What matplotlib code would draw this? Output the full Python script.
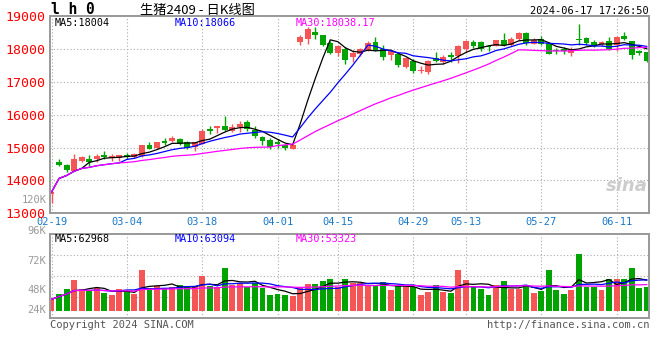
import numpy as np
import pandas as pd
import matplotlib
matplotlib.use("Agg")
import matplotlib.pyplot as plt

# daily candles, 2024-02-19 .. 2024-06-17 (lh2409)
opens = [13595, 14560, 14465, 14280, 14590, 14640, 14640, 14765, 14680, 14680,
         14765, 14720, 14745, 15070, 14990, 15205, 15185, 15255, 15155, 15030,
         15100, 15565, 15605, 15665, 15510, 15615, 15770, 15545, 15315, 15230,
         15180, 15070, 14955, 18210, 18300, 18515, 18435, 18180, 17870, 18005,
         17740, 17850, 17955, 18210, 18005, 17820, 17850, 17440, 17635, 17335,
         17305, 17730, 17605, 17810, 17795, 18005, 18220, 18220, 18075, 18075,
         18280, 18105, 18310, 18485, 18150, 18310, 18180, 17975, 18005, 17870,
         18310, 18335, 18210, 18160, 18250, 18125, 18385, 18230, 17945, 17900]
highs = [13645, 14660, 14505, 14795, 14745, 14765, 14795, 14885, 14795, 14765,
         14825, 14845, 15070, 15155, 15175, 15305, 15355, 15295, 15205, 15175,
         15565, 15645, 15665, 15945, 15715, 15820, 15840, 15665, 15350, 15280,
         15255, 15100, 15120, 18435, 18660, 18660, 18435, 18230, 18125, 18045,
         17975, 18025, 18230, 18355, 18125, 17925, 17870, 17750, 17680, 17470,
         17650, 17915, 17820, 17920, 18130, 18265, 18280, 18230, 18125, 18270,
         18485, 18355, 18515, 18515, 18335, 18385, 18210, 18025, 18045, 18045,
         18745, 18355, 18280, 18230, 18355, 18385, 18515, 18230, 17975, 17900]
lows = [13325, 14435, 14250, 14280, 14560, 14435, 14560, 14660, 14590, 14590,
        14660, 14690, 14720, 14970, 14970, 15070, 15175, 15070, 14970, 14895,
        15100, 15410, 15440, 15510, 15460, 15480, 15510, 15275, 15070, 14950,
        15000, 14930, 14950, 18125, 18150, 18310, 18075, 17840, 17790, 17545,
        17615, 17770, 17925, 17925, 17665, 17665, 17460, 17410, 17255, 17275,
        17245, 17600, 17545, 17600, 17560, 17910, 18025, 17925, 17945, 18075,
        18075, 18075, 18280, 18125, 18150, 18105, 17850, 17840, 17840, 17770,
        18125, 18125, 18045, 18075, 17975, 17925, 18280, 17695, 17800, 17615]
closes = [13645, 14475, 14330, 14660, 14710, 14560, 14745, 14700, 14745, 14765,
          14700, 14795, 15070, 14970, 15155, 15130, 15305, 15100, 15000, 15155,
          15505, 15510, 15645, 15535, 15615, 15715, 15565, 15350, 15205, 15010,
          15120, 15000, 15090, 18355, 18590, 18435, 18125, 17870, 18075, 17665,
          17890, 17995, 18180, 17975, 17740, 17925, 17510, 17710, 17315, 17370,
          17635, 17625, 17755, 17755, 18090, 18230, 18100, 18000, 18045, 18270,
          18105, 18310, 18485, 18180, 18280, 18150, 17850, 17925, 17925, 18005,
          18280, 18180, 18075, 18200, 18005, 18355, 18310, 17820, 17890, 17635]
volumes = [23300, 34100, 44300, 62600, 43700, 40200, 45700, 35500, 32000, 44300,
           40800, 34100, 83000, 45700, 50400, 45700, 47800, 52400, 47800, 47800,
           70800, 50400, 47800, 87100, 52400, 57100, 47800, 55900, 45700, 32000,
           34100, 31200, 30000, 47800, 53900, 53900, 60600, 64700, 47800, 64700,
           57100, 55900, 50400, 50400, 58600, 42200, 50400, 47800, 47800, 32000,
           38800, 52400, 38800, 36700, 83000, 62600, 47800, 44300, 32000, 52400,
           60600, 43700, 43700, 52400, 36700, 40800, 83000, 42200, 34100, 42200,
           115700, 47800, 47800, 42200, 64700, 64700, 64700, 87100, 46300, 49000]

tick_pos = [0, 10, 20, 30, 38, 48, 55, 65, 75]
tick_labels = ["02-19", "03-04", "03-18", "04-01", "04-15", "04-29", "05-13", "05-27", "06-11"]
price_ticks = [13000, 14000, 15000, 16000, 17000, 18000, 19000]

RED = "#f65555"
GREEN = "#00a300"
BLUE_TXT = "#1a78c8"
GRID = "#aaaaaa"
MONO = "DejaVu Sans Mono"

o = np.array(opens, dtype=float)
h = np.array(highs, dtype=float)
l = np.array(lows, dtype=float)
c = np.array(closes, dtype=float)
v = np.array(volumes, dtype=float)
x = np.arange(len(c))
col = np.where(c >= o, RED, GREEN)

ma = {n: pd.Series(c).rolling(n, min_periods=1).mean() for n in (5, 10, 30)}
vma = {n: pd.Series(v).rolling(n, min_periods=1).mean() for n in (5, 10, 30)}
ma_colors = {5: "black", 10: "#0000ff", 30: "#ff00ff"}

W, H = 660, 360
fig = plt.figure(figsize=(W / 100, H / 100), dpi=100)


def box(left, top, right, bottom):
    return [left / W, 1 - bottom / H, (right - left) / W, (bottom - top) / H]


def style(a):
    for s in a.spines.values():
        s.set_color("#999999")
        s.set_linewidth(1.4)
    a.grid(True, color=GRID, linestyle=(0, (1, 2)), linewidth=0.8)
    a.set_axisbelow(True)
    a.tick_params(length=0)


# price panel
ax = fig.add_axes(box(50, 16, 649, 213.3))
ax.vlines(x, l, h, colors=col, linewidth=1)
ax.bar(x, np.maximum(np.abs(c - o), 14), bottom=np.minimum(o, c), width=0.78, color=col)
for n in (5, 10, 30):
    ax.plot(x, ma[n], color=ma_colors[n], linewidth=0.9)
ax.set_xlim(-0.2, 79.3)
ax.set_ylim(13000, 19000)
ax.set_xticks(tick_pos)
ax.set_xticklabels(tick_labels, color=BLUE_TXT, fontsize=7.5, family=MONO)
ax.set_yticks(price_ticks)
ax.set_yticklabels([str(t) for t in price_ticks], color="#ff0000", fontsize=9.5, family=MONO)
style(ax)
ax.tick_params(axis="x", pad=3)
ax.tick_params(axis="y", pad=3)
ax.text(0.963, 0.14, "sina", transform=ax.transAxes, ha="center", va="center",
        fontsize=13, weight="bold", style="italic", color="#cccccc")

# volume panel
axv = fig.add_axes(box(50, 234.3, 649, 317.7))
axv.bar(x, v, width=0.78, color=col)
for n in (5, 10, 30):
    axv.plot(x, vma[n], color=ma_colors[n], linewidth=0.9)
vmin, vmax = -14300, 155900
axv.set_xlim(-0.2, 79.3)
axv.set_ylim(vmin, vmax)
axv.set_xticks(tick_pos)
axv.set_xticklabels([])
axv.set_yticks([vmin + (vmax - vmin) * f for f in (0.25, 0.5, 0.75)])
axv.set_yticklabels([])
style(axv)

# texts
fig.text(51 / W, 1 - 10 / H, "l h 0", fontsize=10.5, weight="bold", family=MONO, va="center")
fig.text(140 / W, 1 - 10 / H, "生猪2409 - 日K线图", fontsize=9.5,
         family=["Noto Sans CJK SC", "DejaVu Sans"], va="center")
fig.text(649 / W, 1 - 11 / H, "2024-06-17 17:26:50", fontsize=7.5, family=MONO,
         ha="right", va="center")

fig.text(55 / W, 1 - 23 / H, "MA5:18004", fontsize=7.3, family=MONO, va="center", color="black")
fig.text(175 / W, 1 - 23 / H, "MA10:18066", fontsize=7.3, family=MONO, va="center", color="#0000ff")
fig.text(296 / W, 1 - 23 / H, "MA30:18038.17", fontsize=7.3, family=MONO, va="center", color="#ff00ff")

fig.text(55 / W, 1 - 239 / H, "MA5:62968", fontsize=7.3, family=MONO, va="center", color="black")
fig.text(175 / W, 1 - 239 / H, "MA10:63094", fontsize=7.3, family=MONO, va="center", color="#0000ff")
fig.text(296 / W, 1 - 239 / H, "MA30:53323", fontsize=7.3, family=MONO, va="center", color="#ff00ff")

for lab, yy in [("120K", 200), ("96K", 231), ("72K", 261), ("48K", 290), ("24K", 310)]:
    fig.text(46.5 / W, 1 - yy / H, lab, fontsize=7.5, family=MONO, ha="right", va="center",
             color="#999999")

fig.text(50 / W, 1 - 325 / H, "Copyright 2024 SINA.COM", fontsize=7.5, family=MONO,
         va="center", color="#555555")
fig.text(649 / W, 1 - 325 / H, "http://finance.sina.com.cn", fontsize=7.5, family=MONO,
         ha="right", va="center", color="#555555")

fig.savefig("out.png", dpi=100)
